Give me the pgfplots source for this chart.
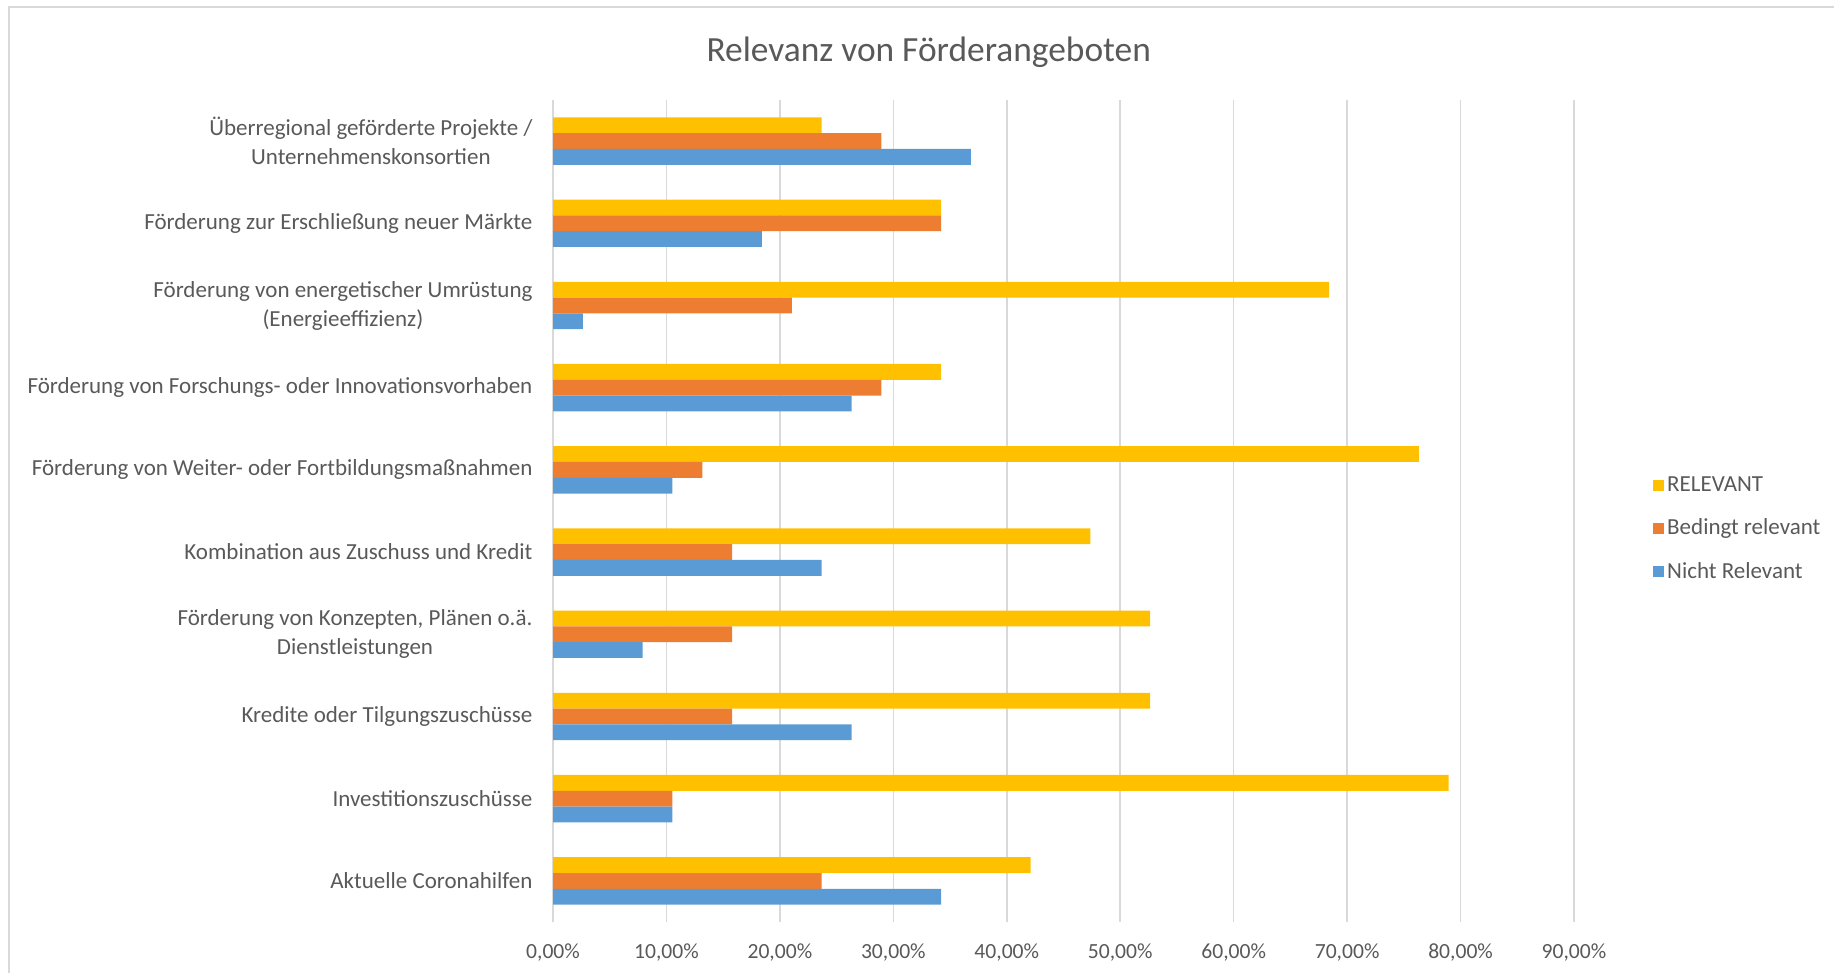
\documentclass[border=0pt]{standalone}
\usepackage{pgfplots}
\pgfplotsset{compat=1.18}
\usepackage{fontspec}
\setmainfont{Carlito}
\definecolor{cR}{HTML}{FFC000}
\definecolor{cB}{HTML}{ED7D31}
\definecolor{cN}{HTML}{5B9BD5}
\definecolor{txt}{HTML}{595959}
\definecolor{grd}{HTML}{D9D9D9}
\begin{document}
\begin{tikzpicture}
\useasboundingbox (0,0) rectangle (917pt,486.5pt);
\draw[grd, line width=1.2pt] (4.5pt,0) -- (4.5pt,483pt) -- (917pt,483pt);
\begin{axis}[
  at={(276.5pt,25.5pt)}, anchor=south west,
  scale only axis, width=510.5pt, height=411pt,
  xbar, bar width=7.9pt,
  xmin=0, xmax=90, ymin=-0.5, ymax=9.5,
  axis line style={draw=none},
  xtick={0,10,...,90},
  xticklabels={{0,00\%},{10,00\%},{20,00\%},{30,00\%},{40,00\%},{50,00\%},{60,00\%},{70,00\%},{80,00\%},{90,00\%}},
  xmajorgrids, grid style={grd, line width=0.75pt},
  major x tick style={draw=none},
  ytick={0,...,9},
  major y tick style={draw=none},
  yticklabels={
    {Aktuelle Coronahilfen},
    {Investitionszuschüsse},
    {Kredite oder Tilgungszuschüsse},
    {Förderung von Konzepten, Plänen o.ä.\\Dienstleistungen},
    {Kombination aus Zuschuss und Kredit},
    {Förderung von Weiter- oder Fortbildungsmaßnahmen},
    {Förderung von Forschungs- oder Innovationsvorhaben},
    {Förderung von energetischer Umrüstung\\(Energieeffizienz)},
    {Förderung zur Erschließung neuer Märkte},
    {Überregional geförderte Projekte /\\Unternehmenskonsortien}},
  yticklabel style={align=center, font=\fontsize{11.5}{14.5}\selectfont, text=txt, xshift=-2.5pt},
  xticklabel style={font=\fontsize{10.8}{12}\selectfont, text=txt, yshift=-7.5pt},
  extra y ticks={-0.5,0.5,...,9.5},
  extra y tick labels={},
  extra y tick style={major tick length=2.5pt, tick pos=left, tick align=outside, major tick style={grd, line width=0.75pt, draw=grd}},
  title={Relevanz von Förderangeboten},
  title style={at={(0.368,1.0435)}, anchor=center, font=\fontsize{17.7}{20}\selectfont, text=txt},
  legend style={at={(1,0.478)}, anchor=west, xshift=39.5pt, draw=none, fill=none, inner sep=0pt,
    font=\fontsize{11.5}{13}\selectfont, text=txt, row sep=8.2pt, cells={anchor=west},
    nodes={inner xsep=1.5pt}},
  legend image code/.code={\fill[#1] (0pt,-2.7pt) rectangle (5.4pt,2.7pt);},
]
\addplot[draw=none, fill=cR, bar shift=7.9pt] coordinates {
 (42.11,0) (78.95,1) (52.63,2) (52.63,3) (47.37,4) (76.32,5) (34.21,6) (68.42,7) (34.21,8) (23.68,9)};
\addplot[draw=none, fill=cB, bar shift=0pt] coordinates {
 (23.68,0) (10.53,1) (15.79,2) (15.79,3) (15.79,4) (13.16,5) (28.95,6) (21.05,7) (34.21,8) (28.95,9)};
\addplot[draw=none, fill=cN, bar shift=-7.9pt] coordinates {
 (34.21,0) (10.53,1) (26.32,2) (7.89,3) (23.68,4) (10.53,5) (26.32,6) (2.63,7) (18.42,8) (36.84,9)};
\legend{RELEVANT, Bedingt relevant, Nicht Relevant}
\end{axis}
\end{tikzpicture}
\end{document}
